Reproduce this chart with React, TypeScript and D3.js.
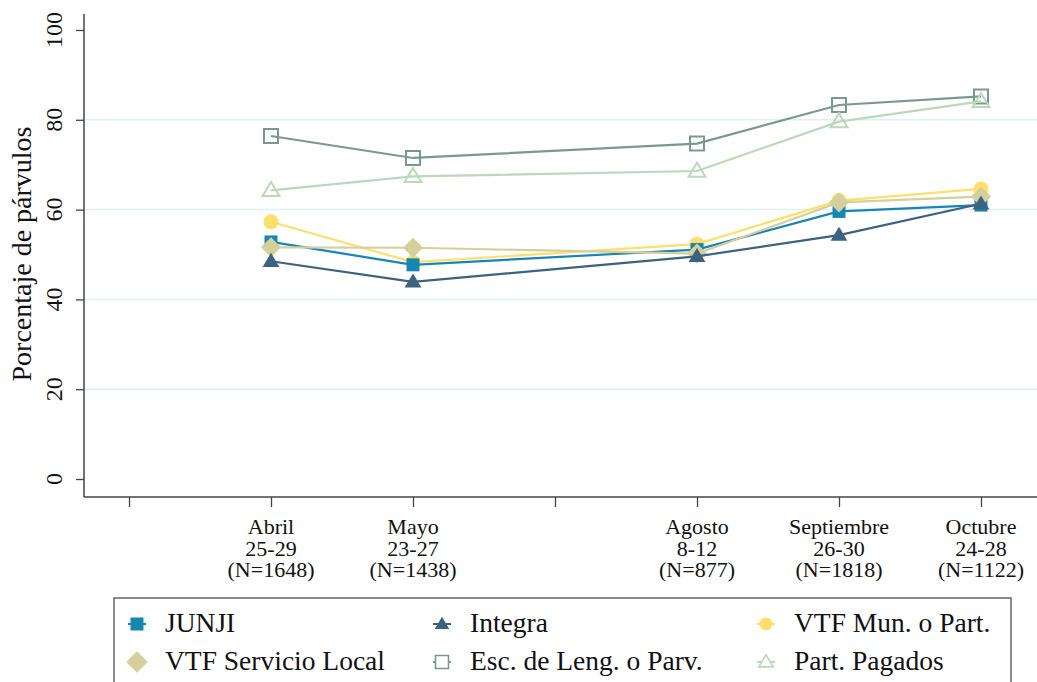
import React, { useEffect, useRef } from "react";
import * as d3 from "d3";

const xPositions = [1, 2, 4, 5, 6];
const xTicks = [0, 1, 2, 3, 4, 5, 6];
const tickLabels: Record<number, string[]> = {
  1: ["Abril", "25-29", "(N=1648)"],
  2: ["Mayo", "23-27", "(N=1438)"],
  4: ["Agosto", "8-12", "(N=877)"],
  5: ["Septiembre", "26-30", "(N=1818)"],
  6: ["Octubre", "24-28", "(N=1122)"],
};
const yTicks = [0, 20, 40, 60, 80, 100];
const gridTicks = [20, 40, 60, 80];

const seriesNames = [
  "JUNJI",
  "Integra",
  "VTF Mun. o Part.",
  "VTF Servicio Local",
  "Esc. de Leng. o Parv.",
  "Part. Pagados",
];
const junji = [52.8, 47.7, 51.1, 59.6, 61.0];
const integra = [48.5, 43.9, 49.6, 54.3, 61.3];
const vtfMun = [57.3, 48.3, 52.3, 62.0, 64.6];
const vtfServ = [51.6, 51.5, 50.2, 61.6, 62.9];
const escLeng = [76.4, 71.5, 74.7, 83.3, 85.2];
const partPag = [64.3, 67.4, 68.6, 79.6, 84.1];

const seriesValues = [junji, integra, vtfMun, vtfServ, escLeng, partPag];
const colors = ["#1686b5", "#3b6280", "#ffdf6b", "#d5cf9c", "#7a998d", "#bcd8bb"];
const symbols = ["square", "triangle", "circle", "diamond", "hsquare", "htriangle"];

function markerPath(kind: string, s: number): string {
  const p = d3.path();
  if (kind === "square" || kind === "hsquare") {
    p.rect(-s / 2, -s / 2, s, s);
  } else if (kind === "triangle" || kind === "htriangle") {
    const h = s * 0.9;
    p.moveTo(0, -h * 0.62);
    p.lineTo(s * 0.56, h * 0.42);
    p.lineTo(-s * 0.56, h * 0.42);
    p.closePath();
  } else if (kind === "diamond") {
    const r = s * 0.72;
    p.moveTo(0, -r);
    p.lineTo(r, 0);
    p.lineTo(0, r);
    p.lineTo(-r, 0);
    p.closePath();
  } else {
    p.arc(0, 0, s / 2, 0, Math.PI * 2);
  }
  return p.toString();
}

export default function App() {
  const ref = useRef<SVGSVGElement | null>(null);

  useEffect(() => {
    const svg = d3.select(ref.current);
    svg.selectAll("*").remove();
    const font = "Liberation Serif";

    const x = d3.scaleLinear().domain([0, 6]).range([129, 981]);
    const y = d3.scaleLinear().domain([0, 100]).range([479, 30]);
    const plotLeft = 84;
    const plotRight = 1037;
    const plotBottom = 497;
    const plotTop = 14;

    const addText = (
      txt: string,
      size: number,
      opts: { x?: number; y?: number; transform?: string; anchor?: string }
    ) => {
      const t = svg
        .append("text")
        .attr("text-anchor", opts.anchor || "start")
        .attr("fill", "#111")
        .style("font-family", font)
        .style("font-size", `${size}px`)
        .text(txt);
      if (opts.transform) t.attr("transform", opts.transform);
      if (opts.x !== undefined) t.attr("x", opts.x);
      if (opts.y !== undefined) t.attr("y", opts.y);
      return t;
    };

    // gridlines
    svg
      .append("g")
      .selectAll("line")
      .data(gridTicks)
      .join("line")
      .attr("x1", plotLeft)
      .attr("x2", plotRight)
      .attr("y1", (d) => y(d))
      .attr("y2", (d) => y(d))
      .attr("stroke", "#e3eef1")
      .attr("stroke-width", 1.5);

    // axes lines
    svg
      .append("line")
      .attr("x1", plotLeft)
      .attr("x2", plotLeft)
      .attr("y1", plotTop)
      .attr("y2", plotBottom)
      .attr("stroke", "#444")
      .attr("stroke-width", 1.5);
    svg
      .append("line")
      .attr("x1", plotLeft)
      .attr("x2", plotRight)
      .attr("y1", plotBottom)
      .attr("y2", plotBottom)
      .attr("stroke", "#444")
      .attr("stroke-width", 1.5);

    // y ticks
    const yAxis = d3.axisLeft(y).tickValues(yTicks).tickSize(8).tickFormat(() => "");
    const gy = svg.append("g").attr("transform", `translate(${plotLeft},0)`).call(yAxis);
    gy.select(".domain").remove();
    gy.selectAll(".tick text").remove();
    gy.selectAll(".tick line").attr("stroke", "#444").attr("stroke-width", 1.3);
    yTicks.forEach((v) => {
      addText(String(v), 24, {
        transform: `translate(62,${y(v)}) rotate(-90)`,
        anchor: "middle",
      });
    });

    addText("Porcentaje de párvulos", 28, {
      transform: `translate(31,254) rotate(-90)`,
      anchor: "middle",
    });

    // x ticks
    const xAxis = d3.axisBottom(x).tickValues(xTicks).tickSize(10).tickFormat(() => "");
    const gx = svg.append("g").attr("transform", `translate(0,${plotBottom})`).call(xAxis);
    gx.select(".domain").remove();
    gx.selectAll(".tick text").remove();
    gx.selectAll(".tick line").attr("stroke", "#444").attr("stroke-width", 1.3);

    xTicks.forEach((t) => {
      const lines = tickLabels[t];
      if (!lines) return;
      lines.forEach((ln, i) => {
        addText(ln, 22, { x: x(t), y: 534 + i * 21.5, anchor: "middle" });
      });
    });

    // series lines
    const line = d3
      .line<number>()
      .x((_, i) => x(xPositions[i]))
      .y((d) => y(d));

    const sizes = [13, 15, 15, 14, 14, 15];
    const order = [4, 5, 2, 0, 3, 1];
    const drawSeries = (k: number) => {
      svg
        .append("path")
        .datum(seriesValues[k])
        .attr("d", line)
        .attr("fill", "none")
        .attr("stroke", colors[k])
        .attr("stroke-width", 2.2);
    };
    const drawMarkers = (k: number) => {
      const hollow = symbols[k].startsWith("h");
      svg
        .append("g")
        .selectAll("path")
        .data(seriesValues[k])
        .join("path")
        .attr("transform", (d, i) => `translate(${x(xPositions[i])},${y(d)})`)
        .attr("d", markerPath(symbols[k], sizes[k]))
        .attr("fill", hollow ? "none" : colors[k])
        .attr("stroke", hollow ? colors[k] : "none")
        .attr("stroke-width", hollow ? 2 : 0);
    };
    order.forEach((k) => {
      drawSeries(k);
      drawMarkers(k);
    });

    // legend
    svg
      .append("rect")
      .attr("x", 114)
      .attr("y", 598)
      .attr("width", 897)
      .attr("height", 94)
      .attr("fill", "#fff")
      .attr("stroke", "#666")
      .attr("stroke-width", 1.5);
    const colX = [137, 442, 766];
    const rowY = [624, 662];
    seriesNames.forEach((name, k) => {
      const cx = colX[k % 3];
      const cy = rowY[Math.floor(k / 3)];
      const hollow = symbols[k].startsWith("h");
      svg
        .append("line")
        .attr("x1", cx - 9)
        .attr("x2", cx + 9)
        .attr("y1", cy)
        .attr("y2", cy)
        .attr("stroke", colors[k])
        .attr("stroke-width", 2);
      svg
        .append("path")
        .attr("transform", `translate(${cx},${cy})`)
        .attr("d", markerPath(symbols[k], k === 3 ? 15 : 13))
        .attr("fill", hollow ? "#fff" : colors[k])
        .attr("stroke", hollow ? colors[k] : "none")
        .attr("stroke-width", hollow ? 1.6 : 0);
      addText(name, 27.5, { x: cx + 28, y: cy + 8 });
    });
  }, []);

  return (
    <svg
      ref={ref}
      width={1037}
      height={682}
      style={{ position: "absolute", left: 0, top: 0, background: "#fff" }}
    />
  );
}
